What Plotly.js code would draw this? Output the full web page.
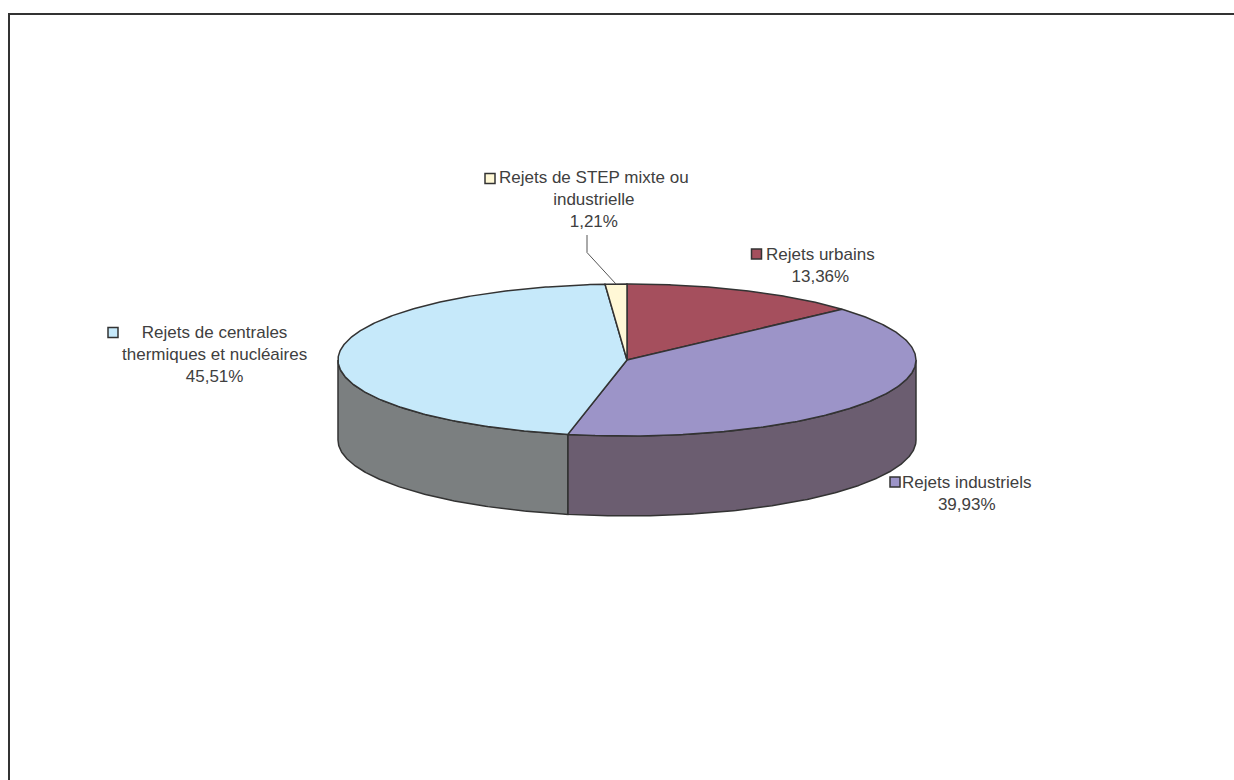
<!DOCTYPE html>
<html><head><meta charset="utf-8">
<script src="https://cdn.plot.ly/plotly-3.0.1.min.js"></script>
<style>html,body{margin:0;padding:0;background:#fff;overflow:hidden}#c{width:1234px;height:780px}</style>
</head><body><div id="c"></div>
<script>
const categories = ["Rejets urbains","Rejets industriels","Rejets de centrales thermiques et nucléaires","Rejets de STEP mixte ou industrielle"];
const values = [13.36,39.93,45.51,1.21];
const tickText = ["13,36%","39,93%","45,51%","1,21%"];
const topColors = ["#A54F5D","#9C94C8","#C6E9FA","#FFF8D6"];
const sideColors = ["#6B3940","#6B5D70","#7B7F80","#8A8678"];

const cx=627, cy=360, rx=289, ry=76, depth=80, lineCol="#333333";
const total=values.reduce((a,b)=>a+b,0);
const px=(d,dz=0)=>[cx+rx*Math.sin(d*Math.PI/180), cy-ry*Math.cos(d*Math.PI/180)+dz];
const arc=(a,b,dz=0)=>{const n=Math.max(2,Math.ceil(Math.abs(b-a)/0.5));const o=[];for(let i=0;i<=n;i++)o.push(px(a+(b-a)*i/n,dz));return o;};
const traces=[];
const poly=(pts,fill,name)=>traces.push({type:"scatter",mode:"lines",x:pts.map(p=>p[0]),y:pts.map(p=>p[1]),fill:"toself",fillcolor:fill,line:{color:lineCol,width:1.5},hoverinfo:"text",text:name,showlegend:false});

let angle=0; const spans=values.map(v=>{const s=[angle,angle+v/total*360];angle=s[1];return s;});
// visible rim (front half of the ellipse: 90° to 270°)
spans.forEach((s,i)=>{
  const a=Math.max(s[0],90), b=Math.min(s[1],270);
  if(b>a) poly([...arc(a,b),...arc(b,a,depth),px(a)],sideColors[i],categories[i]);
});
// top face
spans.forEach((s,i)=>poly([[cx,cy],...arc(s[0],s[1]),[cx,cy]],topColors[i],categories[i]));
// leader line of the smallest slice
const mid=(spans[3][0]+spans[3][1])/2, tip=px(mid);
traces.push({type:"scatter",mode:"lines",x:[587,587,tip[0]],y:[235,252.5,tip[1]],line:{color:"#555555",width:1},hoverinfo:"skip",showlegend:false});

// label placement: text centre, block centre, key square
const place=[{x:820,y:265,kx:756.5,ky:254},{x:966,y:493,kx:895,ky:482},{x:214,y:354,kx:113,ky:332.5},{x:593.5,y:199,kx:490,ky:178.5}];
const lines=[["Rejets urbains"],["Rejets industriels"],["Rejets de centrales","thermiques et nucléaires"],["Rejets de STEP mixte ou","industrielle"]];
const annotations=place.map((p,i)=>({xref:"x",yref:"y",x:p.x,y:p.y,showarrow:false,align:"center",text:[...lines[i],tickText[i]].join("<br>"),font:{family:"Liberation Sans, Arial, sans-serif",size:17,color:"#404040"}}));
traces.push({type:"scatter",mode:"markers",x:place.map(p=>p.kx),y:place.map(p=>p.ky),marker:{symbol:"square",size:10,color:topColors,line:{color:lineCol,width:1.5}},hoverinfo:"skip",showlegend:false});

const layout={width:1234,height:780,margin:{l:0,r:0,t:0,b:0},paper_bgcolor:"#fff",plot_bgcolor:"#fff",showlegend:false,
 xaxis:{range:[0,1234],visible:false,fixedrange:true},yaxis:{range:[780,0],visible:false,fixedrange:true},annotations,
 shapes:[{type:"rect",xref:"x",yref:"y",x0:9,x1:1260,y0:14,y1:800,line:{color:"#333333",width:2},fillcolor:"rgba(0,0,0,0)",layer:"below"}]};
Plotly.newPlot("c",traces,layout,{displayModeBar:false,staticPlot:true});
</script></body></html>
